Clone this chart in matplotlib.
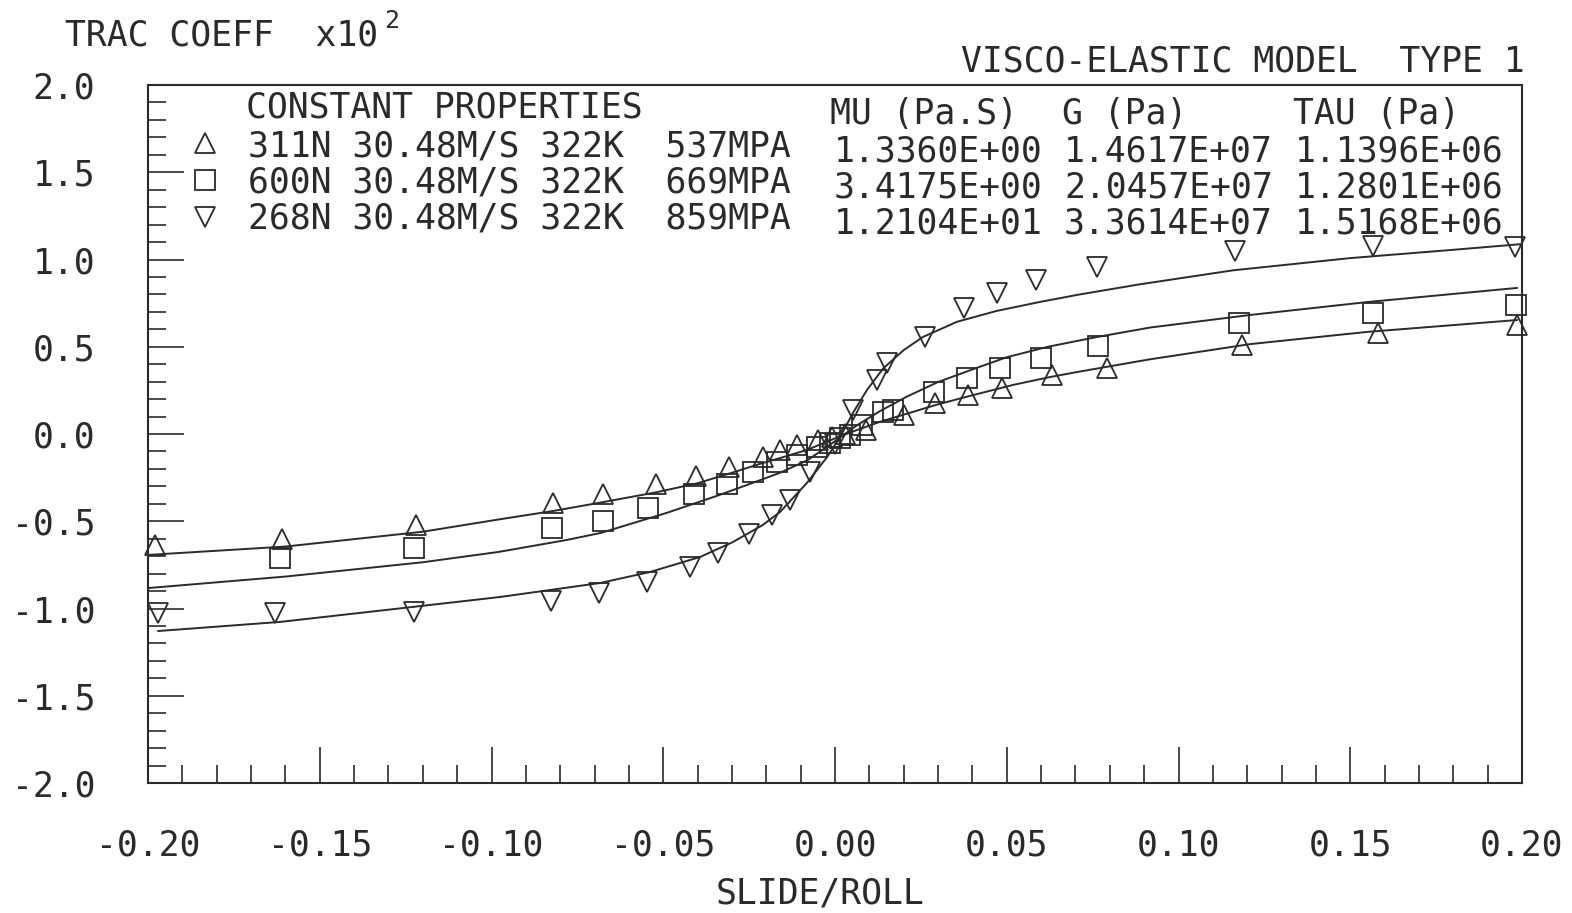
import matplotlib
matplotlib.use("Agg")
import matplotlib.pyplot as plt
import numpy as np

# ---------------- data ----------------
# measured points, 311N (triangle up)
tri_x = [-0.198, -0.161, -0.122, -0.082, -0.0675, -0.052, -0.0405, -0.031, -0.021, -0.016,
         -0.011, -0.005, -0.001, 0.003, 0.009, 0.020, 0.029, 0.0387, 0.0486, 0.0632,
         0.0792, 0.1185, 0.158, 0.1985]
tri_y = [-0.636, -0.602, -0.521, -0.395, -0.344, -0.287, -0.241, -0.189, -0.130, -0.092,
         -0.063, -0.034, -0.020, 0.000, 0.023, 0.110, 0.178, 0.224, 0.264, 0.338,
         0.378, 0.510, 0.579, 0.625]

# measured points, 600N (square)
sq_x = [-0.1616, -0.1226, -0.0824, -0.0675, -0.0544, -0.041, -0.0314, -0.0239, -0.0169, -0.011,
        -0.0052, -0.0015, 0.0015, 0.0044, 0.0079, 0.014, 0.017, 0.0288, 0.0384, 0.048,
        0.060, 0.0766, 0.1176, 0.1566, 0.1983]
sq_y = [-0.711, -0.653, -0.539, -0.499, -0.424, -0.344, -0.287, -0.218, -0.160, -0.120,
        -0.075, -0.052, -0.023, -0.006, 0.052, 0.126, 0.138, 0.241, 0.321, 0.378,
        0.436, 0.504, 0.636, 0.693, 0.739]

# measured points, 268N (triangle down)
dn_x = [-0.197, -0.163, -0.1226, -0.0827, -0.0687, -0.0547, -0.0422, -0.034, -0.025, -0.0183,
        -0.0131, -0.0073, 0.000, 0.0052, 0.0122, 0.0151, 0.0262, 0.0376, 0.0471, 0.0585,
        0.0763, 0.1164, 0.1566, 0.198]
dn_y = [-1.026, -1.026, -1.020, -0.957, -0.911, -0.848, -0.762, -0.682, -0.573, -0.464,
        -0.378, -0.218, -0.060, 0.138, 0.309, 0.407, 0.556, 0.722, 0.808, 0.883,
        0.957, 1.049, 1.077, 1.072]

# model curves (visco-elastic fit)
fitA_x = [-0.200, -0.160, -0.120, -0.098, -0.082, -0.068, -0.052, -0.040, -0.030, -0.022,
          -0.016, -0.008, 0.000, 0.006, 0.013, 0.021, 0.030, 0.040, 0.052, 0.063,
          0.0713, 0.080, 0.0917, 0.1208, 0.1549, 0.1985]
fitA_y = [-0.693, -0.645, -0.560, -0.490, -0.441, -0.392, -0.334, -0.282, -0.222, -0.172,
          -0.138, -0.090, -0.025, 0.020, 0.069, 0.117, 0.170, 0.222, 0.282, 0.328,
          0.358, 0.388, 0.428, 0.515, 0.585, 0.653]

fitB_x = [-0.200, -0.160, -0.120, -0.098, -0.078, -0.068, -0.049, -0.034, -0.022,
          -0.016, -0.008, -0.001, 0.0064, 0.013, 0.021, 0.030, 0.040, 0.050, 0.062,
          0.0763, 0.0917, 0.1208, 0.1549, 0.1985]
fitB_y = [-0.883, -0.817, -0.735, -0.676, -0.607, -0.566, -0.452, -0.352, -0.266,
          -0.222, -0.150, -0.055, 0.050, 0.130, 0.215, 0.298, 0.370, 0.440, 0.500,
          0.556, 0.610, 0.682, 0.756, 0.837]

fitC_x = [-0.197, -0.1616, -0.1229, -0.0975, -0.0684, -0.0539, -0.0393, -0.0297, -0.021,
          -0.016, -0.0082, -0.0023, 0.0015, 0.0052, 0.0093, 0.014, 0.020, 0.0256, 0.0355,
          0.047, 0.0597, 0.0713, 0.0888, 0.1159, 0.150, 0.179, 0.2003]
fitC_y = [-1.129, -1.077, -0.991, -0.934, -0.854, -0.791, -0.705, -0.619, -0.521,
          -0.447, -0.281, -0.132, -0.017, 0.120, 0.252, 0.375, 0.481, 0.556, 0.643,
          0.705, 0.757, 0.800, 0.858, 0.938, 1.008, 1.054, 1.089]

x_ticks = [-0.20, -0.15, -0.10, -0.05, 0.00, 0.05, 0.10, 0.15, 0.20]
y_ticks = [-2.0, -1.5, -1.0, -0.5, 0.0, 0.5, 1.0, 1.5, 2.0]

legend_header = "CONSTANT PROPERTIES"
col_headers = ["MU (Pa.S)", "G (Pa)", "TAU (Pa)"]
cond_labels = ["311N 30.48M/S 322K  537MPA",
               "600N 30.48M/S 322K  669MPA",
               "268N 30.48M/S 322K  859MPA"]
mu_vals = ["1.3360E+00", "3.4175E+00", "1.2104E+01"]
g_vals = ["1.4617E+07", "2.0457E+07", "3.3614E+07"]
tau_vals = ["1.1396E+06", "1.2801E+06", "1.5168E+06"]
markers = ["^", "s", "v"]

title = "VISCO-ELASTIC MODEL  TYPE 1"
ylabel = "TRAC COEFF  x10"
ylabel_exp = "2"
xlabel = "SLIDE/ROLL"

# ---------------- style ----------------
plt.rcParams['font.family'] = ['DejaVu Sans Mono', 'DejaVu Sans']
plt.rcParams['axes.unicode_minus'] = False
INK = '#2a2a2a'
FS = 25

W, H = 1572, 913
fig = plt.figure(figsize=(W / 100, H / 100), dpi=100)
fig.patch.set_facecolor('white')


def fx(px):
    return px / W


def fy(py):
    return 1 - py / H


ax = fig.add_axes([fx(148), fy(783), (1522 - 148) / W, (783 - 85) / H])
ax.set_xlim(-0.2, 0.2)
ax.set_ylim(-2.0, 2.0)

for s in ax.spines.values():
    s.set_color(INK)
    s.set_linewidth(1.5)

ax.set_xticks(x_ticks)
ax.set_xticklabels([f"{v:.2f}" for v in x_ticks])
ax.set_yticks(y_ticks)
ax.set_yticklabels([f"{v:.1f}" for v in y_ticks])
ax.set_xticks(np.round(np.arange(-0.2, 0.2001, 0.01), 2), minor=True)
ax.set_yticks(np.round(np.arange(-2.0, 2.001, 0.1), 1), minor=True)
ax.tick_params(which='both', direction='in', top=False, right=False, color=INK, width=1.2)
ax.tick_params(which='major', length=26, labelsize=FS, labelcolor=INK)
ax.tick_params(axis='x', which='major', pad=33)
ax.tick_params(axis='y', which='major', pad=38)
ax.tick_params(which='minor', length=13)

# curves
lw = 1.4
ax.plot(fitA_x, fitA_y, color=INK, lw=lw)
ax.plot(fitB_x, fitB_y, color=INK, lw=lw)
ax.plot(fitC_x, fitC_y, color=INK, lw=lw)

# points
mk = dict(linestyle='none', markerfacecolor='none', markeredgecolor=INK,
          markeredgewidth=1.3, clip_on=False)
ax.plot(tri_x, tri_y, marker='^', markersize=15, **mk)
ax.plot(sq_x, sq_y, marker='s', markersize=15, **mk)
ax.plot(dn_x, dn_y, marker='v', markersize=15, **mk)

# legend block (table-like, as in the reference)
fig.text(fx(246), fy(108), legend_header, fontsize=FS, color=INK, ha='left', va='center')
for hdr, px in zip(col_headers, [830, 1062, 1293]):
    fig.text(fx(px), fy(114), hdr, fontsize=FS, color=INK, ha='left', va='center')

row_y_left = [147, 183, 219]
row_y_right = [151, 187, 223]
mark_y = [143, 180, 217]
for i in range(3):
    ax.plot([fx(205)], [fy(mark_y[i])], marker=markers[i], markersize=15,
            transform=fig.transFigure, **mk)
    fig.text(fx(248), fy(row_y_left[i]), cond_labels[i], fontsize=FS, color=INK,
             ha='left', va='center')
    fig.text(fx(834), fy(row_y_right[i]), mu_vals[i], fontsize=FS, color=INK,
             ha='left', va='center')
    fig.text(fx(1064), fy(row_y_right[i]), g_vals[i], fontsize=FS, color=INK,
             ha='left', va='center')
    fig.text(fx(1295), fy(row_y_right[i]), tau_vals[i], fontsize=FS, color=INK,
             ha='left', va='center')

# titles / labels
fig.text(fx(1525), fy(62), title, fontsize=FS, color=INK, ha='right', va='center')
fig.text(fx(65), fy(36), ylabel, fontsize=FS, color=INK, ha='left', va='center')
fig.text(fx(384), fy(21), ylabel_exp, fontsize=18, color=INK, ha='left', va='center')
fig.text(fx(820), fy(893), xlabel, fontsize=FS, color=INK, ha='center', va='center')

fig.savefig("out.png", dpi=100, facecolor='white')
